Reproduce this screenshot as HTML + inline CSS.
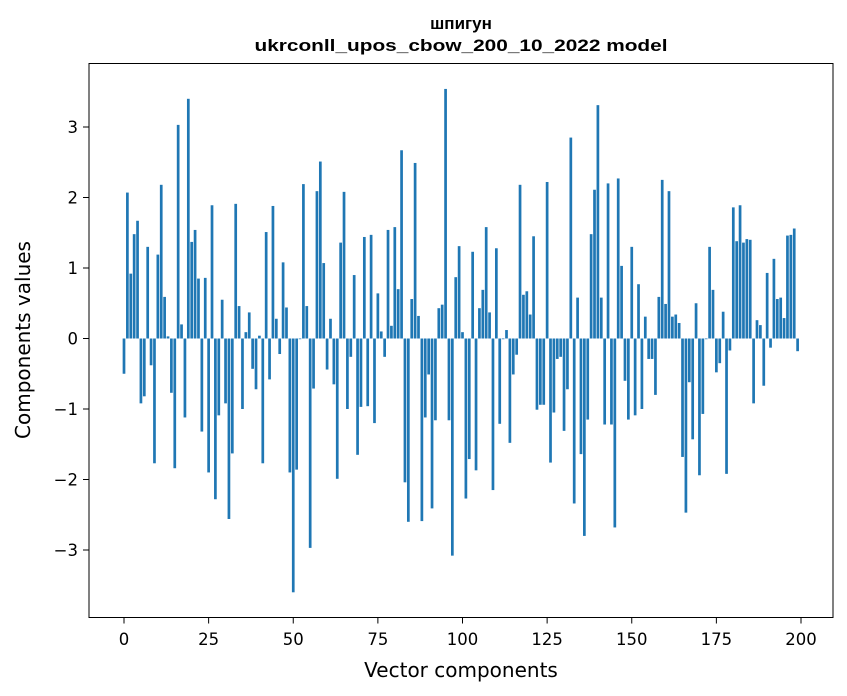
<!DOCTYPE html>
<html><head><meta charset="utf-8"><style>
body{margin:0;background:#fff;}
svg{display:block;font-family:"DejaVu Sans","Liberation Sans",sans-serif;}
</style></head><body>
<svg id="chart" width="847" height="696" viewBox="0 0 847 696">
<rect width="847" height="696" fill="#fff"/>
<text x="461" y="29" text-anchor="middle" font-size="17" font-weight="bold" font-family="Liberation Sans, sans-serif">шпигун</text>
<text x="461" y="51" text-anchor="middle" font-size="17" font-weight="bold" font-family="Liberation Sans, sans-serif" textLength="413" lengthAdjust="spacingAndGlyphs">ukrconll_upos_cbow_200_10_2022 model</text>
<g id="bars"></g>
<g id="xticks"></g>
<g id="yticks"></g>
<rect x="89" y="63.5" width="744" height="554" fill="none" stroke="#000" stroke-width="1"/>
<text x="461" y="677" text-anchor="middle" font-size="20">Vector components</text>
<text transform="translate(30,340) rotate(-90)" text-anchor="middle" font-size="20">Components values</text>
</svg>
<script>
const values = [
-0.50,2.07,0.92,1.48,1.67,-0.92,-0.82,1.30,-0.38,-1.77,
1.19,2.18,0.59,0.03,-0.77,-1.84,3.03,0.20,-1.12,3.40,
1.37,1.54,0.85,-1.32,0.86,-1.90,1.89,-2.28,-1.09,0.55,
-0.92,-2.56,-1.63,1.91,0.46,-1.00,0.09,0.37,-0.43,-0.72,
0.04,-1.77,1.51,-0.58,1.88,0.28,-0.22,1.08,0.44,-1.90,
-3.60,-1.86,-0.01,2.19,0.46,-2.97,-0.71,2.09,2.51,1.07,
-0.44,0.28,-0.65,-1.99,1.36,2.08,-1.00,-0.26,0.90,-1.65,
-0.97,1.44,-0.96,1.47,-1.20,0.64,0.10,-0.26,1.54,0.18,
1.58,0.70,2.67,-2.04,-2.60,0.56,2.49,0.32,-2.59,-1.12,
-0.51,-2.41,-1.16,0.43,0.48,3.54,-1.16,-3.08,0.87,1.31,
0.09,-2.27,-1.71,1.23,-1.87,0.43,0.69,1.58,0.37,-2.15,
1.28,-1.21,-0.01,0.12,-1.48,-0.51,-0.23,2.18,0.62,0.67,
0.34,1.45,-1.01,-0.94,-0.94,2.22,-1.76,-1.05,-0.29,-0.26,
-1.31,-0.72,2.85,-2.34,0.58,-1.64,-2.80,-1.15,1.48,2.11,
3.31,0.58,-1.22,2.20,-1.22,-2.68,2.27,1.03,-0.60,-1.15,
1.30,-1.09,0.77,-1.00,0.31,-0.29,-0.29,-0.80,0.59,2.25,
0.49,2.09,0.31,0.34,0.22,-1.68,-2.47,-0.62,-1.43,0.50,
-1.94,-1.07,-0.01,1.30,0.69,-0.48,-0.35,0.38,-1.92,-0.17,
1.86,1.38,1.89,1.36,1.41,1.40,-0.92,0.26,0.19,-0.67,
0.93,-0.13,1.13,0.56,0.58,0.29,1.46,1.47,1.56,-0.18];
const xTickValues = [0,25,50,75,100,125,150,175,200];
const yTickValues = [-3,-2,-1,0,1,2,3];
const NS='http://www.w3.org/2000/svg';
function xs(v){return 124 + v*3.385;}
function ys(v){return 338.5 - v*70.5;}
const bars=document.getElementById('bars');
values.forEach((v,i)=>{
  const r=document.createElementNS(NS,'rect');
  const y0=ys(Math.max(v,0)), y1=ys(Math.min(v,0));
  r.setAttribute('x',xs(i-0.4));
  r.setAttribute('y',y0);
  r.setAttribute('width',3.385*0.8);
  r.setAttribute('height',Math.max(y1-y0,0.5));
  r.setAttribute('fill','#1f77b4');
  
  
  bars.appendChild(r);
});
const xg=document.getElementById('xticks');
xTickValues.forEach(t=>{
  const l=document.createElementNS(NS,'line');
  l.setAttribute('x1',xs(t));l.setAttribute('x2',xs(t));
  l.setAttribute('y1',617.5);l.setAttribute('y2',623.5);
  l.setAttribute('stroke','#000');
  
  
  xg.appendChild(l);
  const tx=document.createElementNS(NS,'text');
  tx.setAttribute('x',xs(t));tx.setAttribute('y',645);
  tx.setAttribute('text-anchor','middle');tx.setAttribute('font-size','16.5');
  tx.textContent=t;
  
  
  xg.appendChild(tx);
});
const yg=document.getElementById('yticks');
yTickValues.forEach(t=>{
  const l=document.createElementNS(NS,'line');
  l.setAttribute('x1',83);l.setAttribute('x2',89);
  l.setAttribute('y1',ys(t));l.setAttribute('y2',ys(t));
  l.setAttribute('stroke','#000');
  
  
  yg.appendChild(l);
  const tx=document.createElementNS(NS,'text');
  tx.setAttribute('x',78);tx.setAttribute('y',ys(t)+6);
  tx.setAttribute('text-anchor','end');tx.setAttribute('font-size','16.5');
  tx.textContent=t<0?'\u2212'+Math.abs(t):String(t);
  
  
  yg.appendChild(tx);
});
</script>
</body></html>
